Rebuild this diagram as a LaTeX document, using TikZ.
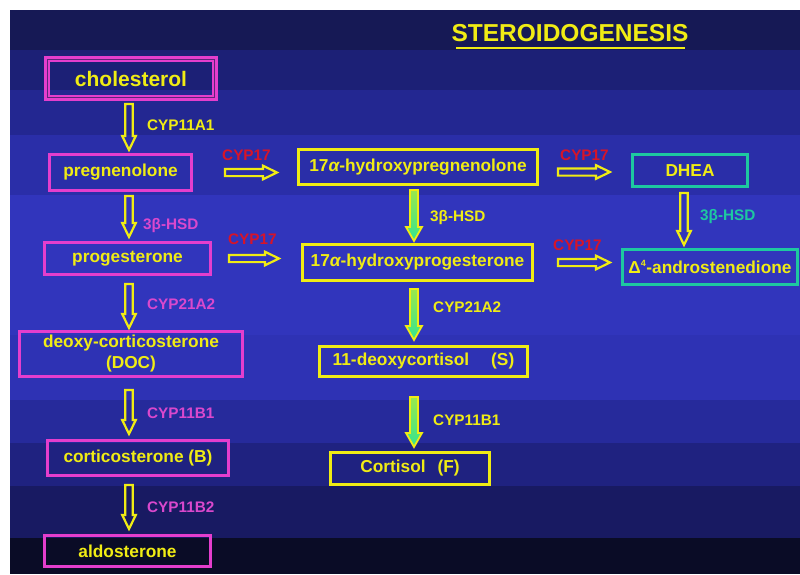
\documentclass[tikz,border=0pt]{standalone}
\usepackage{fontspec}
\setmainfont{Liberation Sans}
\usetikzlibrary{calc}
\definecolor{myyellow}{RGB}{240,236,20}
\definecolor{mypink}{RGB}{228,62,205}
\definecolor{labpink}{RGB}{218,72,205}
\definecolor{myred}{RGB}{215,20,40}
\definecolor{myteal}{RGB}{30,200,160}
\definecolor{mygreen}{RGB}{50,228,145}
\definecolor{navy}{RGB}{20,22,80}
\definecolor{bA}{RGB}{22,25,85}
\definecolor{bB}{RGB}{28,32,118}
\definecolor{bC}{RGB}{35,39,145}
\definecolor{bD}{RGB}{42,46,168}
\definecolor{bE}{RGB}{49,53,188}
\definecolor{bF}{RGB}{46,50,180}
\definecolor{bG}{RGB}{38,42,155}
\definecolor{bH}{RGB}{31,34,128}
\definecolor{bI}{RGB}{24,26,98}
\definecolor{bJ}{RGB}{10,12,38}
\begin{document}
\begin{tikzpicture}[x=1pt,y=-1pt,
  boxbase/.style={rectangle, inner sep=0pt, line width=2.6pt, text=myyellow,
    font=\bfseries\fontsize{17.3}{21}\selectfont, align=center},
  pinkbox/.style={boxbase, draw=mypink},
  yelbox/.style={boxbase, draw=myyellow},
  tealbox/.style={boxbase, draw=myteal},
  lab/.style={anchor=west, inner sep=0pt, font=\bfseries\fontsize{15.3}{17}\selectfont},
  vhollow/.style={draw=myyellow, line width=2.2pt, line join=miter,
    to path={let \p1=(\tikztostart), \p2=(\tikztotarget) in
      (\x1-3.8pt,\y1) -- (\x1-3.8pt,\y2+14pt) -- (\x1-6.8pt,\y2+14pt) -- (\x1,\y2)
      -- (\x1+6.8pt,\y2+14pt) -- (\x1+3.8pt,\y2+14pt) -- (\x1+3.8pt,\y1) -- cycle}},
  vgreen/.style={draw=myyellow, line width=1.8pt, line join=miter,
    top color=myyellow!55!mygreen, bottom color=mygreen,
    to path={let \p1=(\tikztostart), \p2=(\tikztotarget) in
      (\x1-4pt,\y1) -- (\x1-4pt,\y2+14pt) -- (\x1-8pt,\y2+14pt) -- (\x1,\y2)
      -- (\x1+8pt,\y2+14pt) -- (\x1+4pt,\y2+14pt) -- (\x1+4pt,\y1) -- cycle}},
  hhollow/.style={draw=myyellow, line width=2.2pt, line join=miter,
    to path={let \p1=(\tikztostart), \p2=(\tikztotarget) in
      (\x1,\y1+3.6pt) -- (\x2-14pt,\y1+3.6pt) -- (\x2-14pt,\y1+6.8pt) -- (\x2,\y1)
      -- (\x2-14pt,\y1-6.8pt) -- (\x2-14pt,\y1-3.6pt) -- (\x1,\y1-3.6pt) -- cycle}}
]
\useasboundingbox (0,0) rectangle (800,574);
\fill[white] (0,0) rectangle (800,574);
% background bands
\fill[bA] (10,10) rectangle (800,50);
\fill[bB] (10,50) rectangle (800,90);
\fill[bC] (10,90) rectangle (800,135);
\fill[bD] (10,135) rectangle (800,195);
\fill[bE] (10,195) rectangle (800,335);
\fill[bF] (10,335) rectangle (800,400);
\fill[bG] (10,400) rectangle (800,443);
\fill[bH] (10,443) rectangle (800,486);
\fill[bI] (10,486) rectangle (800,538);
\fill[bJ] (10,538) rectangle (800,574);

% title
\node[anchor=base, inner sep=0pt, text=myyellow,
  font=\bfseries\fontsize{24.5}{28}\selectfont] (title) at (570,41) {STEROIDOGENESIS};
\draw[myyellow, line width=2.5pt] ([xshift=5pt,yshift=-7pt]title.base west) -- ([xshift=-4pt,yshift=-7pt]title.base east);

% column reference coordinates
\coordinate (xL) at (129,0);
\coordinate (xM) at (414,0);
\coordinate (xR) at (684,0);

% left column boxes
\node[pinkbox, line width=6pt, minimum width=168pt, minimum height=39pt,
  font=\bfseries\fontsize{21}{24}\selectfont] (chol) at (131,78.5) {cholesterol};
\draw[mypink!35!navy, line width=1pt] ($(chol.north west)+(3.3,3.3)$) rectangle ($(chol.south east)+(-3.3,-3.3)$);
\node[pinkbox, minimum width=142.5pt, minimum height=36.5pt] (preg) at (120.5,172.5) {pregnenolone};
\node[pinkbox, minimum width=166.5pt, minimum height=32.5pt] (prog) at (127.5,258.5) {progesterone};
\node[pinkbox, minimum width=223.5pt, minimum height=45.5pt] (doc) at (131,354) {deoxy-corticosterone\\(DOC)};
\node[pinkbox, minimum width=181.5pt, minimum height=35.5pt] (cort) at (138,458) {corticosterone (B)};
\node[pinkbox, minimum width=166.5pt, minimum height=31.5pt] (aldo) at (127.5,551) {aldosterone};

% middle column boxes
\node[yelbox, minimum width=239.5pt, minimum height=35.5pt] (hpreg) at (418,167) {17{\itshape α}-hydroxypregnenolone};
\node[yelbox, minimum width=230.5pt, minimum height=36.5pt] (hprog) at (417.5,262.5) {17{\itshape α}-hydroxyprogesterone};
\node[yelbox, minimum width=208.5pt, minimum height=30.5pt] (deoxy) at (423.5,361.5) {11-deoxycortisol\hspace{22pt}(S)};
\node[yelbox, minimum width=159.5pt, minimum height=32.5pt] (cortisol) at (410,468.5) {Cortisol\hspace{12pt}(F)};

% right column boxes
\node[tealbox, minimum width=115.5pt, minimum height=32.5pt] (dhea) at (690,170.5) {DHEA};
\node[tealbox, minimum width=175.5pt, minimum height=35.5pt] (andro) at (710,267) {Δ\textsuperscript{\fontsize{9}{9}\selectfont 4}-androstenedione};

% left column arrows
\draw[vhollow] ($(chol.south -| xL)+(0,3)$) to ($(preg.north -| xL)+(0,-3)$);
\draw[vhollow] ($(preg.south -| xL)+(0,4)$) to ($(prog.north -| xL)+(0,-4)$);
\draw[vhollow] ($(prog.south -| xL)+(0,8)$) to ($(doc.north -| xL)+(0,-2)$);
\draw[vhollow] ($(doc.south -| xL)+(0,12)$) to ($(cort.north -| xL)+(0,-5)$);
\draw[vhollow] ($(cort.south -| xL)+(0,8)$) to ($(aldo.north -| xL)+(0,-5)$);

% middle column arrows
\draw[vgreen] ($(hpreg.south -| xM)+(0,4)$) to ($(hprog.north -| xM)+(0,-2)$);
\draw[vgreen] ($(hprog.south -| xM)+(0,7)$) to ($(deoxy.north -| xM)+(0,-5)$);
\draw[vgreen] ($(deoxy.south -| xM)+(0,19)$) to ($(cortisol.north -| xM)+(0,-4)$);

% right column arrow
\draw[vhollow] ($(dhea.south -| xR)+(0,5)$) to ($(andro.north -| xR)+(0,-3)$);

% horizontal arrows
\draw[hhollow] ($(preg.east)+(32,0)$) to ($(hpreg.west)+(-20,0)$);
\draw[hhollow] ($(prog.east)+(17,0)$) to ($(hprog.west)+(-22,0)$);
\draw[hhollow] ($(hpreg.east)+(19,5)$) to ($(dhea.west)+(-21,0)$);
\draw[hhollow] ($(hprog.east)+(24,0)$) to ($(andro.west)+(-11,0)$);

% enzyme labels
\node[lab, text=myyellow] (e1) at (147,125) {CYP11A1};
\node[lab, text=labpink] (e2) at (143,226) {3β-HSD};
\node[lab, text=labpink] (e3) at (147,304) {CYP21A2};
\node[lab, text=labpink] (e4) at (147,413) {CYP11B1};
\node[lab, text=labpink] (e5) at (147,507) {CYP11B2};
\node[lab, text=myred] (r1) at (222,155) {CYP17};
\node[lab, text=myred] (r2) at (228,239) {CYP17};
\node[lab, text=myred] (r3) at (560,155) {CYP17};
\node[lab, text=myred] (r4) at (553,245) {CYP17};
\node[lab, text=myyellow] (m1) at (430,218) {3β-HSD};
\node[lab, text=myyellow] (m2) at (433,307) {CYP21A2};
\node[lab, text=myyellow] (m3) at (433,420) {CYP11B1};
\node[lab, text=myteal] (t1) at (700,217) {3β-HSD};
\end{tikzpicture}
\end{document}
